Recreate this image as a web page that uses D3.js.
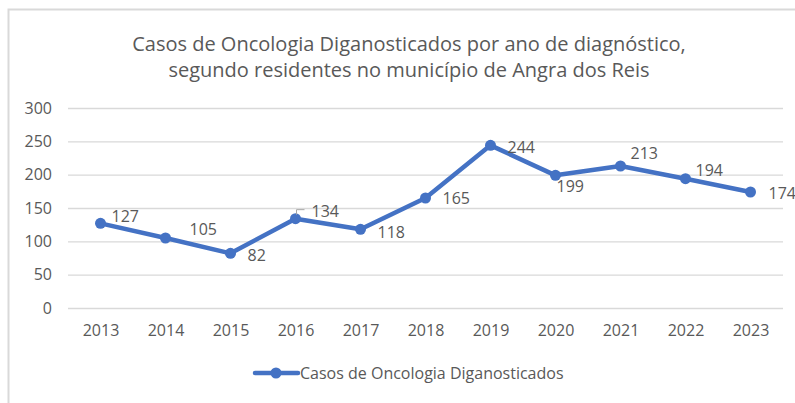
<!DOCTYPE html>
<html><head><meta charset="utf-8">
<script src="https://cdn.jsdelivr.net/npm/d3@7"></script>
<style>body{margin:0;background:#fff}svg{display:block;font-family:"Open Sans",sans-serif}</style>
</head><body><svg id="c" width="795" height="403"></svg>
<script>
const years = ["2013","2014","2015","2016","2017","2018","2019","2020","2021","2022","2023"];
const cases = [127,105,82,134,118,165,244,199,213,194,174];
const yTicks = [0,50,100,150,200,250,300];
const titleLines = ["Casos de Oncologia Diganosticados por ano de diagnóstico,","segundo residentes no município de Angra dos Reis"];
const seriesName = "Casos de Oncologia Diganosticados";
// label offsets (dx, dy) relative to each point
const labelDx = [11,24,17,16,17,17,17,1,10,10,18];
const labelDy = [-7,-9,2,-7,3,0,2,11,-13,-8,1];

const svg = d3.select("#c");
const grey = "#595959", blue = "#4472C4";
// frame
svg.append("path").attr("d","M8.5,403 V9.5 H795").attr("fill","none").attr("stroke","#d9d9d9").attr("stroke-width",2);

const x = d3.scalePoint().domain(years).range([68,783]).padding(0.5);
const y = d3.scaleLinear().domain([0,300]).range([308,108]);

// title
svg.append("g").selectAll("text").data(titleLines).join("text")
  .attr("x",409).attr("y",(d,i)=>51+i*26).attr("text-anchor","middle")
  .attr("fill",grey).attr("font-size",20).text(d=>d);

// grid
const ga = svg.append("g").attr("transform","translate(68,0)")
  .call(d3.axisLeft(y).tickValues(yTicks).tickSize(-715).tickPadding(16));
ga.select(".domain").remove();
ga.selectAll(".tick line").attr("stroke","#d9d9d9").attr("stroke-width",1.3);
ga.selectAll(".tick text").attr("fill",grey).attr("font-size",16).attr("font-family","Open Sans");

const xa = svg.append("g").attr("transform","translate(0,308)")
  .call(d3.axisBottom(x).tickSize(0).tickPadding(17));
xa.select(".domain").remove();
xa.selectAll(".tick text").attr("fill",grey).attr("font-size",16).attr("font-family","Open Sans");

// line
svg.append("path").datum(cases)
  .attr("d",d3.line().x((d,i)=>x(years[i])).y(d=>y(d)))
  .attr("fill","none").attr("stroke",blue).attr("stroke-width",4.5).attr("stroke-linejoin","round").attr("stroke-linecap","round");
svg.append("g").selectAll("circle").data(cases).join("circle")
  .attr("cx",(d,i)=>x(years[i])).attr("cy",d=>y(d)).attr("r",5.5).attr("fill",blue);

// leader line for 2016
svg.append("path")
  .attr("d",`M${x("2016")+1},${y(134)-4} V${y(134)-9} H${x("2016")+9}`)
  .attr("fill","none").attr("stroke","#a6a6a6").attr("stroke-width",1);

// labels
svg.append("g").selectAll("text").data(cases).join("text")
  .attr("x",(d,i)=>x(years[i])+labelDx[i]).attr("y",(d,i)=>y(d)+labelDy[i])
  .attr("dy","0.35em").attr("fill",grey).attr("font-size",16).text(d=>d);

// legend
const lg = svg.append("g");
lg.append("line").attr("x1",255).attr("x2",298).attr("y1",373).attr("y2",373).attr("stroke",blue).attr("stroke-width",4.5).attr("stroke-linecap","round");
lg.append("circle").attr("cx",276).attr("cy",373).attr("r",5.5).attr("fill",blue);
lg.append("text").attr("x",300).attr("y",373).attr("dy","0.35em").attr("fill",grey).attr("font-size",16).text(seriesName);
</script></body></html>
